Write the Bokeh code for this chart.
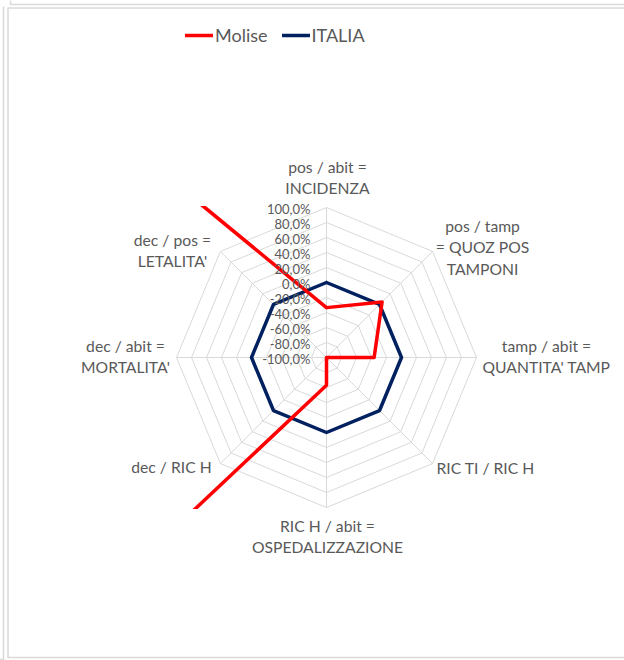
import numpy as np
from bokeh.plotting import figure
from bokeh.models import Range1d, Label, Legend, LegendItem
from bokeh.embed import file_html
from bokeh.resources import INLINE

# ---- data ----
categories = [
    "pos / abit =\nINCIDENZA",
    "pos / tamp\n= QUOZ POS\nTAMPONI",
    "tamp / abit =\nQUANTITA' TAMP",
    "RIC TI / RIC H",
    "RIC H / abit =\nOSPEDALIZZAZIONE",
    "dec  / RIC H",
    "dec / abit =\nMORTALITA'",
    "dec / pos =\nLETALITA'",
]
molise = [-33.5, 4.8, -36.5, -100.0, -63.0, 797.0, 252.0, 430.0]   # %
italia = [0.0, 0.0, 0.0, 0.0, 0.0, 0.0, 0.0, 0.0]                   # %
ring_values = [-100, -80, -60, -40, -20, 0, 20, 40, 60, 80, 100]
tick_labels = ["-100,0%", "-80,0%", "-60,0%", "-40,0%", "-20,0%", "0,0%",
               "20,0%", "40,0%", "60,0%", "80,0%", "100,0%"]

AXIS_MIN, AXIS_MAX = -100.0, 100.0
TEXT = "#595959"
GRID = "#d9d9d9"
FRAME = "#d9d9d9"
FONT = "Lato"

n = len(categories)
theta = np.pi / 2 - np.arange(n) * 2 * np.pi / n
R = AXIS_MAX - AXIS_MIN

OFFX = 20                # canvas starts this many px left of the page edge
PAGE_W, H = 624, 660
W = PAGE_W + OFFX        # canvas size
CX, CY = 326, 357        # radar centre in page px
SCALE = 150 / R          # px per data unit


def polar(vals):
    r = np.asarray(vals, dtype=float) - AXIS_MIN
    x = r * np.cos(theta)
    y = r * np.sin(theta)
    return np.append(x, x[0]), np.append(y, y[0])


def px(xp):   # page px -> data x (for decoration only)
    return (xp - CX) / SCALE


def py(yp):   # page px -> data y (for decoration only)
    return (CY - yp) / SCALE


x0, x1 = px(-OFFX), px(PAGE_W)
y0, y1 = py(H), py(0)
p = figure(width=W, height=H, min_border=0,
           x_range=Range1d(x0, x1), y_range=Range1d(y0, y1),
           x_axis_type=None, y_axis_type=None,
           output_backend="svg", toolbar_location=None)
p.grid.visible = False
p.outline_line_color = None
p.background_fill_color = "white"
p.border_fill_color = "white"
p.styles = {"margin-left": f"-{OFFX}px"}

# grid rings
xs, ys = [], []
for v in ring_values[1:]:
    x, y = polar([v] * n)
    xs.append(list(x)); ys.append(list(y))
p.multi_line(xs, ys, line_color=GRID, line_width=1)
# spokes
sx, sy = [], []
for t in theta:
    sx.append([0, R * np.cos(t)]); sy.append([0, R * np.sin(t)])
p.multi_line(sx, sy, line_color=GRID, line_width=1)

# series
ix, iy = polar(italia)
r_it = p.line(ix, iy, line_color="#002060", line_width=3.5, line_join="round", line_cap="round")
mx, my = polar(molise)
r_mo = p.line(mx, my, line_color="#ff0000", line_width=3.5, line_join="round", line_cap="round")

# plot-area clipping (series are cut at the square plot area, like the original)
edge = R + 1.5 / SCALE
pad = 60 / SCALE
p.quad(left=[x0 - pad, edge, x0 - pad, x0 - pad],
       right=[-edge, x1 + pad, x1 + pad, x1 + pad],
       bottom=[y0 - pad, y0 - pad, edge, y0 - pad],
       top=[y1 + pad, y1 + pad, y1 + pad, -edge],
       fill_color="white", fill_alpha=1, line_color=None)

# chart-area frame and neighbouring frames
p.multi_line(
    xs=[[px(PAGE_W + 5), px(7.5), px(7.5), px(PAGE_W + 5)],
        [px(3), px(3), px(-5)],
        [px(10), px(10), px(PAGE_W + 5)]],
    ys=[[py(7.5), py(7.5), py(657), py(657)],
        [py(6), py(659), py(659)],
        [py(-5), py(4), py(4)]],
    line_color=FRAME, line_width=1.5)

# radial tick labels
for v, lab in zip(ring_values, tick_labels):
    p.add_layout(Label(x=0, y=v - AXIS_MIN, text=lab, x_offset=-16, y_offset=-1,
                       text_align="right", text_baseline="middle",
                       text_font=FONT, text_font_size="13px", text_color=TEXT))

# category labels (offsets in screen px from each outer vertex)
offsets = [(1, 30), (50, 4), (70, 1), (53, -4), (1, -29), (-47, -3), (-51, 1), (-48, 1)]
for i, lab in enumerate(categories):
    dx, dy = offsets[i]
    p.add_layout(Label(x=R * np.cos(theta[i]), y=R * np.sin(theta[i]), text=lab,
                       x_offset=dx, y_offset=dy, text_align="center", text_baseline="middle",
                       text_font=FONT, text_font_size="15.7px", text_color=TEXT,
                       text_line_height=1.2))

legend = Legend(items=[LegendItem(label="Molise", renderers=[r_mo]),
                       LegendItem(label="ITALIA", renderers=[r_it])],
                orientation="horizontal", location=(185 + OFFX, 614),
                label_text_font=FONT, label_text_font_size="18px", label_text_color=TEXT,
                glyph_width=28, glyph_height=20, label_standoff=2, spacing=14,
                padding=0, margin=0, border_line_color=None, background_fill_alpha=0)
p.add_layout(legend)

open("out.html", "w").write(file_html(p, INLINE))
